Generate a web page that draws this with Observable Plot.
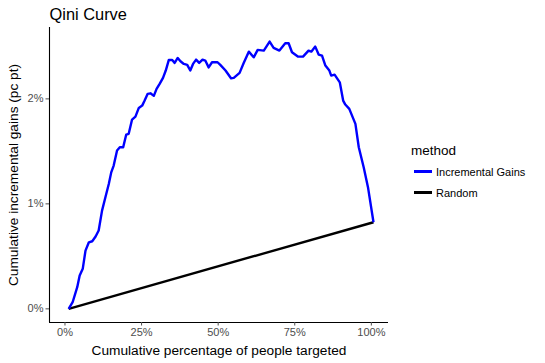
<!DOCTYPE html>
<html>
<head>
<meta charset="utf-8">
<script src="https://cdn.jsdelivr.net/npm/d3@7"></script>
<script src="https://cdn.jsdelivr.net/npm/@observablehq/plot@0.6"></script>
<style>
  html, body { margin: 0; padding: 0; background: #fff; }
  #wrap { position: relative; width: 545px; height: 363px; font-family: "Liberation Sans", Arial, Helvetica, sans-serif; }
  #legend { position: absolute; left: 411px; top: 141px; }
  #legend .title { font-size: 13.5px; color: #000; height: 20px; line-height: 20px; }
  #legend .row { display: flex; align-items: center; height: 21px; font-size: 11px; color: #000; }
  #legend .key { width: 23px; height: 21px; display: flex; align-items: center; justify-content: center; margin-right: 2px; }
  #legend .key span { display: block; width: 18px; height: 2.4px; }
</style>
</head>
<body>
<div id="wrap"></div>
<script>
// Incremental Gains curve: cumulative % of people targeted vs cumulative incremental gains (pc pt, in %)
const gainsX = [1.2, 2.5, 4.0, 4.8, 5.8, 6.7, 7.8, 8.9, 10.0, 11.0, 12.1, 13.2, 14.3, 15.1, 15.9, 17.0, 17.9, 19.0, 20.0, 20.8,
  21.9, 23.0, 24.1, 25.2, 26.0, 27.0, 27.9, 29.0, 29.9, 30.9, 32.0, 32.9, 33.9, 35.0, 35.8, 36.8, 37.7, 38.8, 39.9, 40.9,
  41.8, 42.8, 43.8, 44.9, 45.8, 46.9, 48.0, 49.8, 50.7, 52.4, 54.2, 55.1, 57.0, 58.3, 60.0, 61.6, 62.9, 64.9, 66.8, 68.1,
  70.0, 71.9, 73.0, 74.1, 76.0, 77.7, 79.5, 80.4, 81.7, 82.8, 83.9, 85.0, 86.3, 86.9, 88.0, 89.7, 90.8, 91.5, 92.8, 94.8,
  95.9, 97.5, 98.9, 100.7];
const gainsY = [0.0, 0.063, 0.206, 0.317, 0.381, 0.555, 0.634, 0.644, 0.689, 0.746, 0.936, 1.063, 1.19, 1.30, 1.365, 1.508, 1.539, 1.539, 1.66, 1.667,
  1.803, 1.831, 1.914, 1.936, 1.984, 2.048, 2.053, 2.029, 2.095, 2.143, 2.2, 2.27, 2.371, 2.371, 2.343, 2.39, 2.358, 2.333, 2.324, 2.27,
  2.333, 2.374, 2.343, 2.374, 2.365, 2.30, 2.349, 2.349, 2.324, 2.27, 2.196, 2.2, 2.248, 2.339, 2.45, 2.396, 2.467, 2.46, 2.546, 2.486,
  2.46, 2.53, 2.53, 2.444, 2.403, 2.403, 2.46, 2.45, 2.498, 2.422, 2.412, 2.317, 2.27, 2.222, 2.231, 2.158, 1.984, 1.946, 1.905, 1.762,
  1.539, 1.349, 1.159, 0.825];
// Random targeting line
const randomX = [1.2, 100.7];
const randomY = [0.0, 0.825];
// Tick values
const xTicks = [0, 25, 50, 75, 100];
const yTicks = [0, 1, 2];
const methods = ["Incremental Gains", "Random"];
const methodColors = ["#0000FF", "#000000"];

const gains = gainsX.map((x, i) => ({x, y: gainsY[i], method: methods[0]}));
const random = randomX.map((x, i) => ({x, y: randomY[i], method: methods[1]}));

const xDom = [-5.05, 105.6];
const yDom = [-0.13, 2.68];
const font = '"Liberation Sans", Arial, Helvetica, sans-serif';

const chart = Plot.plot({
  width: 545,
  height: 363,
  marginLeft: 49,
  marginRight: 157,
  marginTop: 27,
  marginBottom: 41,
  style: {fontFamily: font, background: "#fff", overflow: "visible"},
  x: {domain: xDom},
  y: {domain: yDom},
  marks: [
    Plot.line(random, {x: "x", y: "y", stroke: methodColors[1], strokeWidth: 2.4, strokeLinecap: "butt"}),
    Plot.line(gains, {x: "x", y: "y", stroke: methodColors[0], strokeWidth: 2.4, strokeLinejoin: "round", strokeLinecap: "butt"}),
    Plot.ruleX([xDom[0]], {stroke: "#000", strokeWidth: 1.1}),
    Plot.ruleY([yDom[0]], {stroke: "#000", strokeWidth: 1.1}),
    Plot.axisX({ticks: xTicks, tickFormat: d => d + "%", tickSize: 3.5, tickPadding: 2.5, fontSize: 11, color: "#4D4D4D", label: null}),
    Plot.axisY({ticks: yTicks, tickFormat: d => d + "%", tickSize: 3.5, tickPadding: 2.5, fontSize: 11, color: "#4D4D4D", label: null}),
    Plot.text(["Cumulative percentage of people targeted"], {frameAnchor: "bottom", dy: 28, fontSize: 13.7, fill: "#000", lineAnchor: "middle"}),
    Plot.text(["Cumulative incremental gains (pc pt)"], {frameAnchor: "left", dx: -36, rotate: -90, fontSize: 13.7, fill: "#000", lineAnchor: "middle", textAnchor: "middle"}),
    Plot.text(["Qini Curve"], {frameAnchor: "top-left", dy: -13, fontSize: 16.4, fill: "#000", textAnchor: "start", lineAnchor: "middle"})
  ]
});

const wrap = document.getElementById("wrap");
wrap.appendChild(chart);

const legend = document.createElement("div");
legend.id = "legend";
legend.innerHTML = '<div class="title">method</div>' +
  methods.map((m, i) => `<div class="row"><div class="key"><span style="background:${methodColors[i]}"></span></div><div>${m}</div></div>`).join("");
wrap.appendChild(legend);
</script>
</body>
</html>
